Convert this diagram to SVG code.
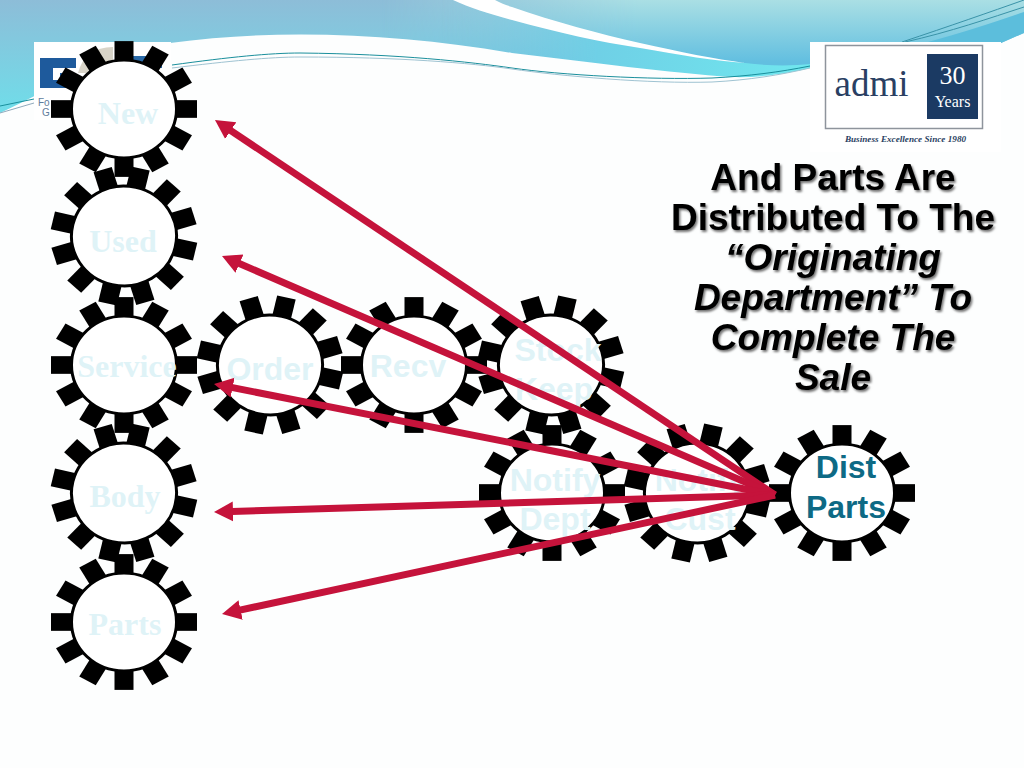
<svg xmlns="http://www.w3.org/2000/svg" width="1024" height="768" viewBox="0 0 1024 768">
<style>
.sans{font-family:"Liberation Sans",Arial,sans-serif;font-weight:bold}
.serif{font-family:"Liberation Serif","Times New Roman",serif;font-weight:bold}
.faint{fill:#dff3f7;font-size:32px;text-anchor:middle}
.dist{fill:#0e6a85;font-size:32px;text-anchor:middle}
.head{fill:#000;font-size:37px;text-anchor:middle;filter:url(#sh)}
.it{font-style:italic}
.wire{fill:none;stroke-width:1}
.arrow{stroke:#c5133b;stroke-width:7;fill:none;marker-end:url(#ah)}
.tooth{fill:#000}
.hub{fill:#fff;stroke:#000;stroke-width:3}
.lg{font-family:"Liberation Serif","Times New Roman",serif}
.lf{font-family:"Liberation Sans",Arial,sans-serif;font-size:10px;fill:#5f7d9c}
</style>
<defs>
<linearGradient id="sky" x1="0" y1="0" x2="0" y2="1"><stop offset="0" stop-color="#8dbdd8"/><stop offset="1" stop-color="#6fdeea"/></linearGradient>
<linearGradient id="pale" gradientUnits="userSpaceOnUse" x1="0" y1="0" x2="0" y2="62"><stop offset="0" stop-color="#aadfe4"/><stop offset="1" stop-color="#62bfe0"/></linearGradient>
<linearGradient id="fadeh" gradientUnits="userSpaceOnUse" x1="380" y1="0" x2="640" y2="0"><stop offset="0" stop-color="#fff" stop-opacity="0"/><stop offset="1" stop-color="#fff"/></linearGradient>
<mask id="fade"><rect width="1024" height="120" fill="url(#fadeh)"/></mask>
<linearGradient id="fadeb" gradientUnits="userSpaceOnUse" x1="440" y1="0" x2="600" y2="0"><stop offset="0" stop-color="#fff" stop-opacity="0"/><stop offset="1" stop-color="#fff"/></linearGradient>
<mask id="fade2"><rect width="1024" height="120" fill="url(#fadeb)"/></mask>
<linearGradient id="band" gradientUnits="userSpaceOnUse" x1="440" y1="0" x2="800" y2="60"><stop offset="0" stop-color="#86c4dc"/><stop offset=".45" stop-color="#6fd0e6"/><stop offset="1" stop-color="#70e6ee"/></linearGradient>
<filter id="sh" x="-10%" y="-20%" width="120%" height="150%"><feDropShadow dx="1.500" dy="2" stdDeviation="1.200" flood-color="#000" flood-opacity=".55"/></filter>
<marker id="ah" markerUnits="userSpaceOnUse" markerWidth="22" markerHeight="22" refX="9" refY="11" orient="auto"><path d="M0,1 L19,11 L0,21 Z" fill="#c5133b"/></marker>
<g id="cog">
<g class="tooth">
<rect x="47" y="-9.500" width="26" height="19"/>
<rect x="47" y="-9.500" width="26" height="19" transform="rotate(30)"/>
<rect x="47" y="-9.500" width="26" height="19" transform="rotate(60)"/>
<rect x="47" y="-9.500" width="26" height="19" transform="rotate(90)"/>
<rect x="47" y="-9.500" width="26" height="19" transform="rotate(120)"/>
<rect x="47" y="-9.500" width="26" height="19" transform="rotate(150)"/>
<rect x="47" y="-9.500" width="26" height="19" transform="rotate(180)"/>
<rect x="47" y="-9.500" width="26" height="19" transform="rotate(210)"/>
<rect x="47" y="-9.500" width="26" height="19" transform="rotate(240)"/>
<rect x="47" y="-9.500" width="26" height="19" transform="rotate(270)"/>
<rect x="47" y="-9.500" width="26" height="19" transform="rotate(300)"/>
<rect x="47" y="-9.500" width="26" height="19" transform="rotate(330)"/>
</g>
<circle class="hub" r="52.500"/>
</g>
</defs>
<rect width="1024" height="768" fill="#fdfefe"/>
<g id="background">
<rect width="1024" height="115" fill="url(#sky)"/>
<rect x="300" width="724" height="70" fill="url(#pale)" mask="url(#fade)"/>
<path d="M453,0C470,8 490,14 512,20C560,33 600,42 640,48C680,55 715,60 745,63C770,66 790,66 812,64V85H440V0Z" fill="url(#band)" mask="url(#fade2)"/>
<path d="M453,0H495C500,3 506,5 512,7C555,22 600,34 640,43C680,52 715,59 745,63C715,61 680,55 640,48C600,42 560,33 512,20C490,14 470,8 453,0Z" fill="#fff"/>
<path d="M0,113C50,90 110,52 170,43C280,28 400,34 512,53C590,62 670,73 732,77C760,78 790,73 810,68C860,58 960,50 1001,43L1024,33V768H0Z" fill="#fdfefe"/>
<path d="M928,42C965,32 995,22 1024,12V33L1001,43Z" fill="#5cbedc"/>
<g class="wire">
<path d="M172,65C230,57 270,53 300,53C400,54 470,62 512,68C560,75 650,80 712,78C750,76 780,72 810,66" stroke="#1a8f9c"/>
<path d="M172,68C230,61 270,57 300,57C400,57 470,63 512,69C560,76 650,84 712,82C750,80 780,75 810,68" stroke="#9fc3d2"/>
<path d="M0,106L34,99" stroke="#1a8f9c"/>
<path d="M0,113L34,103" stroke="#8fa9bb"/>
<path d="M902,42C950,26 990,12 1024,0" stroke="#3a93a8"/>
<path d="M905,42C950,32 990,18 1024,7" stroke="#3a93a8"/>
</g>
</g>
<g id="logo-left">
<rect x="34" y="42" width="137" height="78" fill="#fff"/>
<rect x="40" y="58" width="36" height="30" fill="#1e5a9c"/>
<path d="M53,68H76V73H60V76H72V80H53Z" fill="#fff"/>
<path d="M78,73Q85,47 113,47V73Z" fill="#d8d4c8"/>
<path d="M133,56H162V68H133Z" fill="#2a6aa8"/>
<text class="lf" x="38" y="106">Fo</text>
<text class="lf" x="42" y="116">G</text>
</g>
<g id="logo-admi">
<rect x="810" y="42" width="191" height="110" fill="#fff"/>
<rect x="825.500" y="45.500" width="157" height="83" fill="#fff" stroke="#8e949c" stroke-width="1.500"/>
<rect x="927" y="54" width="51" height="65" fill="#1b3a63"/>
<text class="lg" x="871.500" y="96" font-size="37" fill="#2a3f63" text-anchor="middle">admi</text>
<text class="lg" x="952.500" y="84" font-size="26" fill="#fff" text-anchor="middle">30</text>
<text class="lg" x="952.500" y="107" font-size="16" fill="#fff" text-anchor="middle">Years</text>
<text class="lg" x="905.500" y="142" font-size="9.200" font-weight="bold" font-style="italic" fill="#2a3f63" text-anchor="middle">Business Excellence Since 1980</text>
</g>
<g id="gear-new"><use href="#cog" transform="translate(124,109) scale(1,.93)"/><text class="serif faint" x="128" y="124">New</text></g>
<g id="gear-used"><use href="#cog" transform="translate(124,236) scale(1,.95) rotate(13)"/><text class="serif faint" x="123" y="252">Used</text></g>
<g id="gear-service"><use href="#cog" transform="translate(124,365) scale(1,.93)"/><text class="serif faint" x="127" y="377">Service</text></g>
<g id="gear-body"><use href="#cog" transform="translate(124,493) scale(1,.95) rotate(13)"/><text class="serif faint" x="125" y="507">Body</text></g>
<g id="gear-parts"><use href="#cog" transform="translate(124,622) scale(1,.93)"/><text class="serif faint" x="125" y="635">Parts</text></g>
<g id="gear-order"><use href="#cog" transform="translate(270,365) scale(1,.95) rotate(13)"/><text class="sans faint" x="270" y="380">Order</text></g>
<g id="gear-recv"><use href="#cog" transform="translate(414,365) scale(1,.93)"/><text class="sans faint" x="408" y="377">Recv</text></g>
<g id="gear-stock"><use href="#cog" transform="translate(551,365) scale(1,.95) rotate(13)"/><text class="sans faint" x="558" y="361">Stock</text><text class="sans faint" x="554" y="400">Keep</text></g>
<g id="gear-notify-dept"><use href="#cog" transform="translate(552,493) scale(1,.93)"/><text class="sans faint" x="555" y="491">Notify</text><text class="sans faint" x="555" y="530">Dept</text></g>
<g id="gear-notify-cust"><use href="#cog" transform="translate(697,493) scale(1,.95) rotate(13)"/><text class="sans faint" x="700" y="491">Notify</text><text class="sans faint" x="700" y="530">Cust</text></g>
<g id="gear-dist"><use href="#cog" transform="translate(842,493) scale(1,.93)"/><text class="sans dist" x="846" y="478">Dist</text><text class="sans dist" x="846" y="518">Parts</text></g>
<g id="connectors">
<line class="arrow" x1="775" y1="495" x2="223.300" y2="125.600"/>
<line class="arrow" x1="775" y1="495" x2="231.200" y2="260"/>
<line class="arrow" x1="775" y1="495" x2="223.800" y2="385.900"/>
<line class="arrow" x1="775" y1="495" x2="224" y2="511.700"/>
<line class="arrow" x1="775" y1="495" x2="231.800" y2="611.900"/>
</g>
<g id="heading">
<text class="sans head" x="833" y="190">And Parts Are</text>
<text class="sans head" x="833" y="230">Distributed To The</text>
<text class="sans head it" x="833" y="270">“Originating</text>
<text class="sans head it" x="833" y="310">Department” To</text>
<text class="sans head it" x="833" y="350">Complete The</text>
<text class="sans head it" x="833" y="390">Sale</text>
</g>
</svg>
